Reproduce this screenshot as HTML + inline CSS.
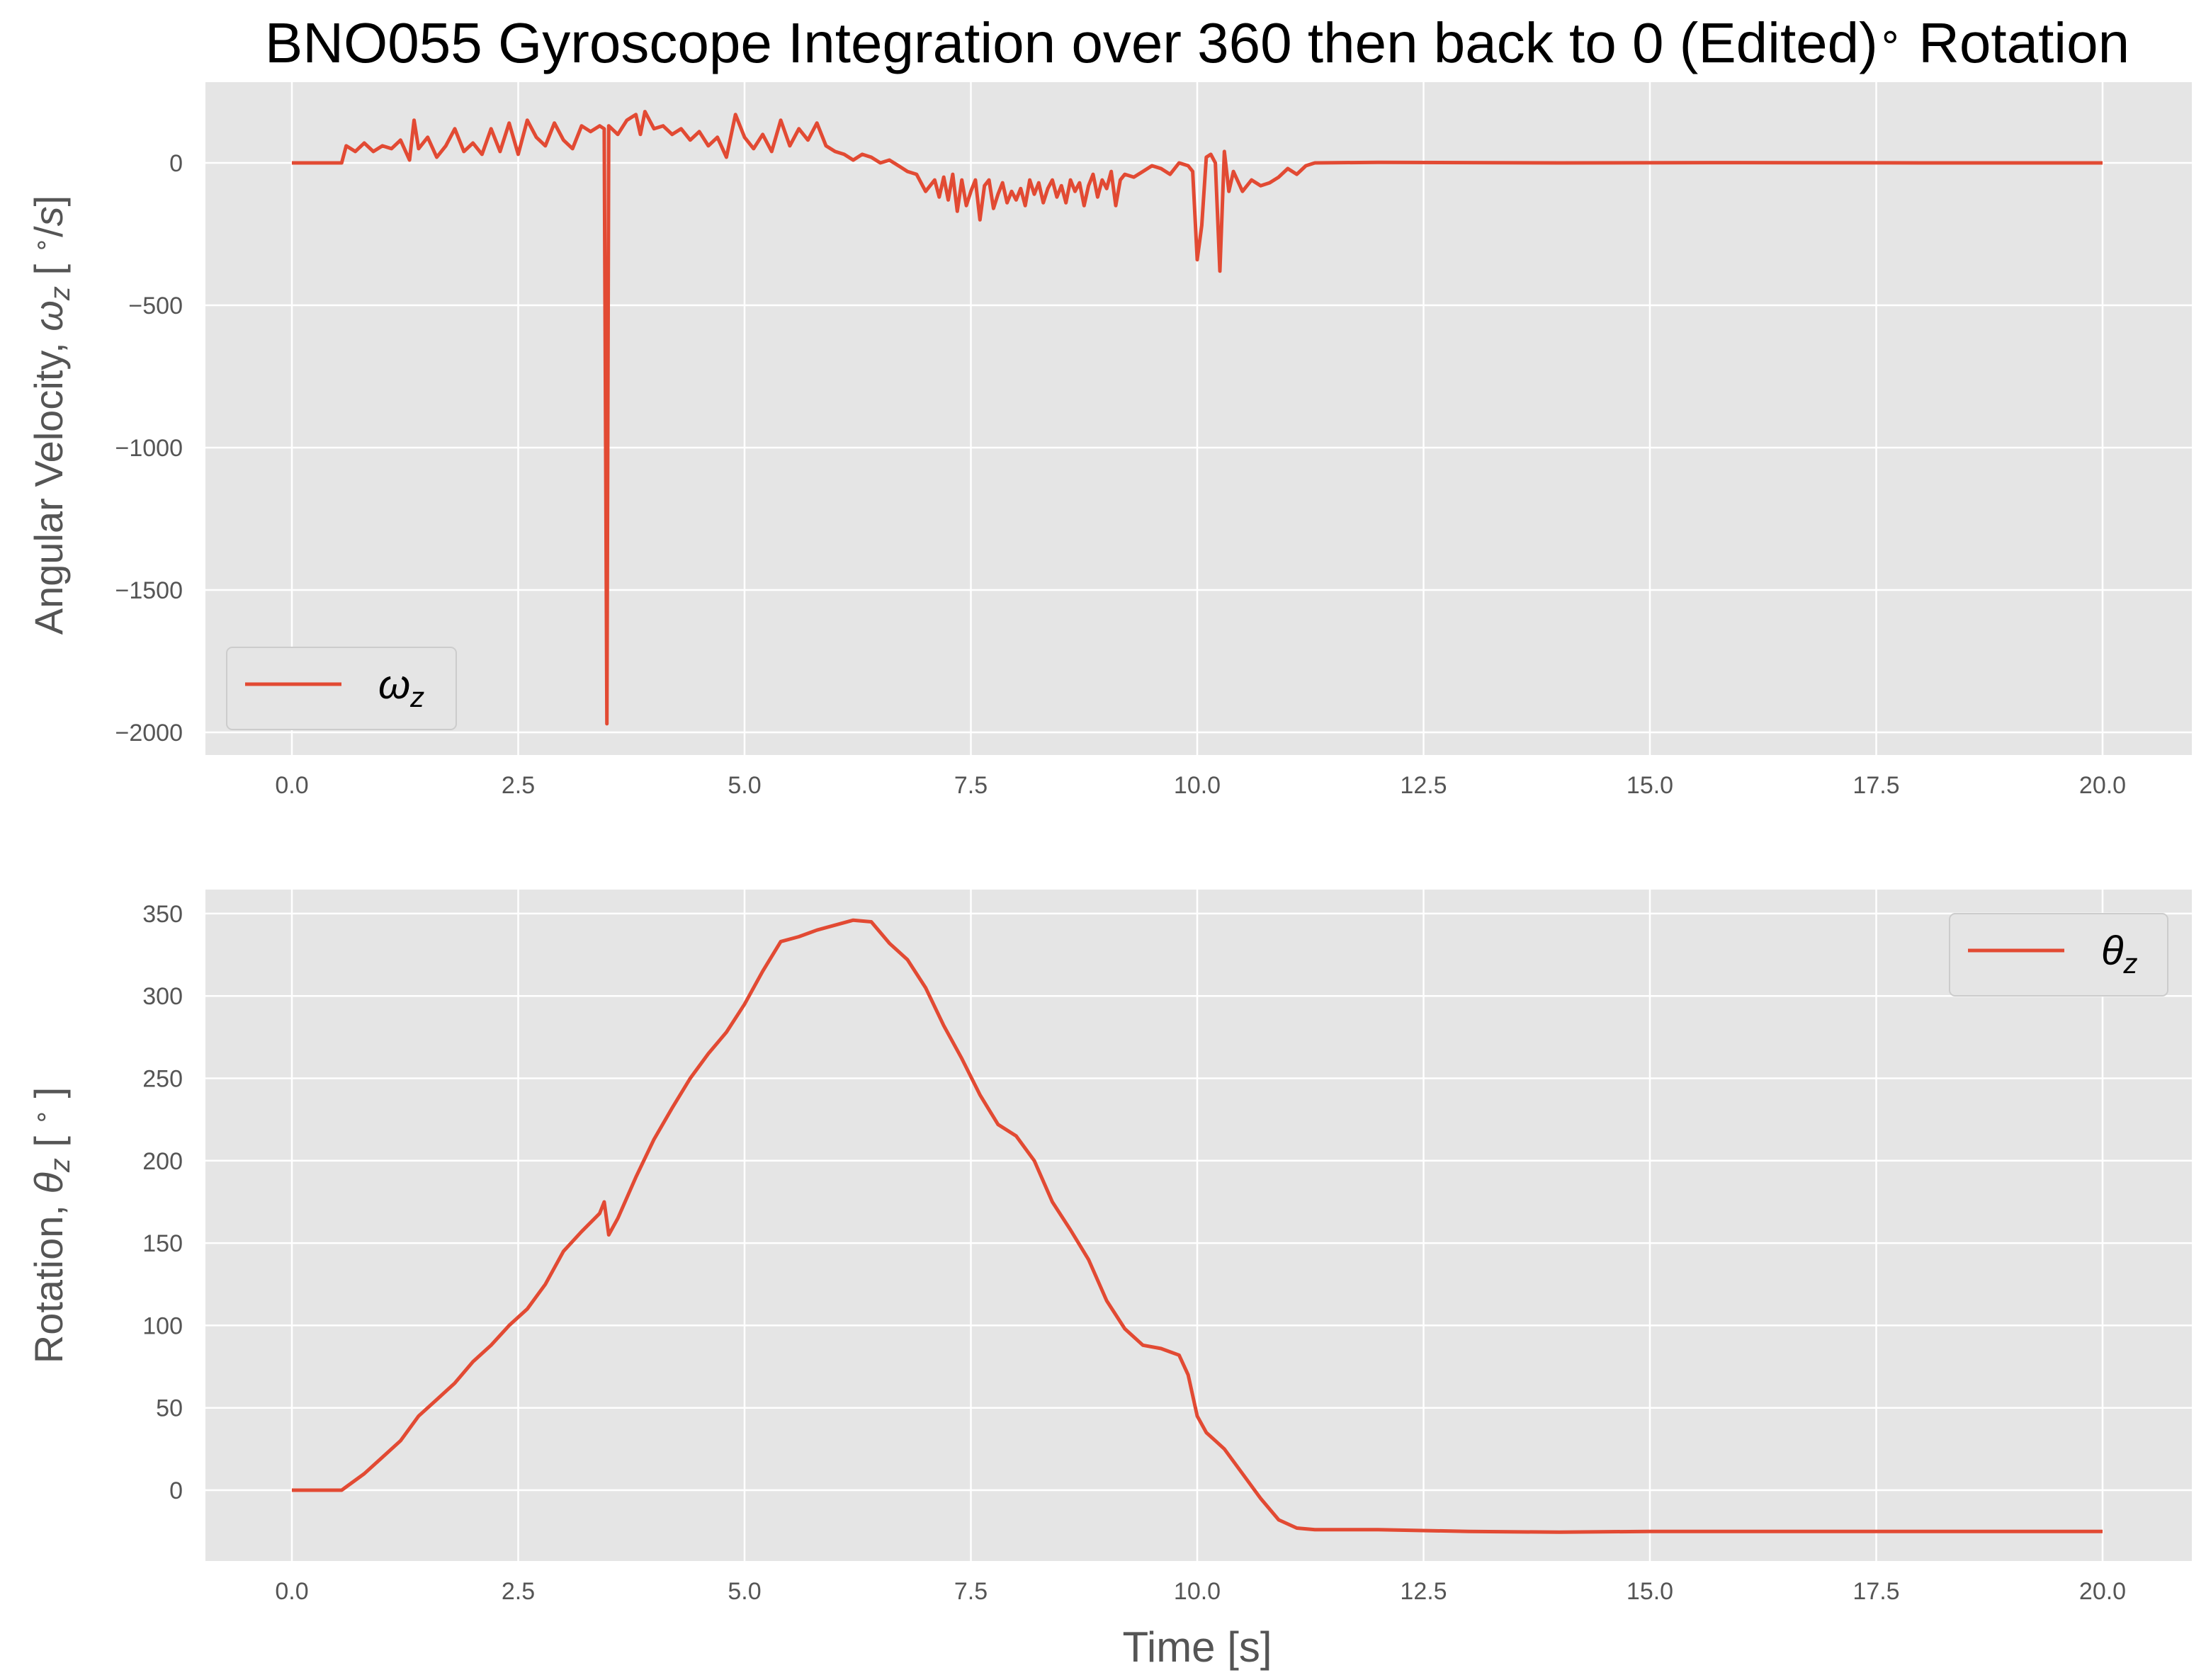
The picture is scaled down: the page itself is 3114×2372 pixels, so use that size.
<!DOCTYPE html>
<html><head><meta charset="utf-8"><style>
html,body{margin:0;padding:0;background:#fff;}
svg{display:block;font-family:"Liberation Sans","DejaVu Sans",sans-serif;}
</style></head><body>
<svg id="chart" width="3114" height="2372" viewBox="0 0 3114 2372" xmlns="http://www.w3.org/2000/svg">
<text x="1690" y="88" font-size="80" text-anchor="middle" fill="#000">BNO055 Gyroscope Integration over 360 then back to 0 (Edited)<tspan font-size="56" dy="-18">∘</tspan><tspan dy="18"> Rotation</tspan></text>
<g id="top"></g>
<g id="bot"></g>
</svg>
<script>
const omegaT=[0,0.55,
0.6,0.7,0.8,0.9,1.0,1.1,1.2,1.3,1.35,1.4,
1.5,1.6,1.7,1.8,1.9,2.0,2.1,2.2,2.3,2.4,
2.5,2.6,2.7,2.8,2.9,3.0,3.1,3.2,3.3,3.4,
3.45,3.48,3.5,3.6,3.7,3.8,3.85,3.9,4.0,4.1,
4.2,4.3,4.4,4.5,4.6,4.7,4.8,4.9,5.0,5.1,
5.2,5.3,5.4,5.5,5.6,5.7,5.8,5.9,6.0,6.1,
6.2,6.3,6.4,6.5,6.6,6.7,6.8,6.9,7.0,7.1,
7.15,7.2,7.25,7.3,7.35,7.4,7.45,7.5,7.55,7.6,
7.65,7.7,7.75,7.8,7.85,7.9,7.95,8.0,8.05,8.1,
8.15,8.2,8.25,8.3,8.35,8.4,8.45,8.5,8.55,8.6,
8.65,8.7,8.75,8.8,8.85,8.9,8.95,9.0,9.05,9.1,
9.15,9.2,9.3,9.4,9.5,9.6,9.7,9.8,9.9,9.95,
10.0,10.05,10.1,10.15,10.2,10.25,10.3,10.35,10.4,10.5,
10.6,10.7,10.8,10.9,11.0,11.1,11.2,11.3,
12,14,16,18,20];
const omegaV=[0,0,
60,40,70,40,60,50,80,10,150,50,
90,20,60,120,40,70,30,120,40,140,
30,150,90,60,140,80,50,130,110,130,
120,-1970,130,100,150,170,100,180,120,130,
100,120,80,110,60,90,20,170,90,50,
100,40,150,60,120,80,140,60,40,30,
10,30,20,0,10,-10,-30,-40,-100,-60,
-120,-50,-130,-40,-170,-60,-150,-100,-60,-200,
-80,-60,-160,-110,-70,-140,-100,-130,-90,-150,
-60,-110,-70,-140,-90,-60,-120,-80,-140,-60,
-100,-70,-150,-80,-40,-120,-60,-90,-30,-150,
-60,-40,-50,-30,-10,-20,-40,0,-10,-30,
-340,-220,20,30,0,-380,40,-100,-30,-100,
-60,-80,-70,-50,-20,-40,-10,0,
2,0,1,0,0];
const thetaT=[0,0.55,0.6,0.8,1.0,1.2,1.4,1.6,1.8,2.0,2.2,2.4,2.6,2.8,3.0,3.2,3.4,3.45,3.5,3.6,3.8,4.0,4.2,4.4,4.6,4.8,5.0,5.2,5.4,5.6,5.8,6.0,6.2,6.4,6.6,6.8,7.0,7.2,7.4,7.6,7.8,8.0,8.2,8.4,8.6,8.8,9.0,9.2,9.4,9.6,9.8,9.9,10.0,10.1,10.2,10.3,10.5,10.7,10.9,11.1,11.3,12,13,14,15,20];
const thetaV=[0,0,2,10,20,30,45,55,65,78,88,100,110,125,145,157,168,175,155,165,190,213,232,250,265,278,295,315,333,336,340,343,346,345,332,322,305,282,262,240,222,215,200,175,158,140,115,98,88,86,82,70,45,35,30,25,10,-5,-18,-23,-24,-24,-25,-25.5,-25,-25];
const xTicks=[0,2.5,5,7.5,10,12.5,15,17.5,20];
const xTickLabels=["0.0","2.5","5.0","7.5","10.0","12.5","15.0","17.5","20.0"];
const omegaTicks=[0,-500,-1000,-1500,-2000];
const omegaTickLabels=["0","\u2212500","\u22121000","\u22121500","\u22122000"];
const thetaTicks=[0,50,100,150,200,250,300,350];
const thetaTickLabels=["0","50","100","150","200","250","300","350"];

const NS="http://www.w3.org/2000/svg";
function mk(p,tag,at,txt){const e=document.createElementNS(NS,tag);for(const k in at)e.setAttribute(k,at[k]);if(txt!==undefined)e.textContent=txt;p.appendChild(e);return e;}
const xs=t=>412+t*127.8;
function panel(g,top,bottom,ys,yT,yL,T,V,ylab,ylabY,legend,name){
  const bg=mk(g,'rect',{x:290,y:top,width:2804,height:bottom-top,fill:'#e5e5e5'});
  
  
  xTicks.forEach((t,i)=>{
    const l=mk(g,'line',{x1:xs(t),x2:xs(t),y1:top,y2:bottom,stroke:'#fff','stroke-width':2.5});
    
    
    const tx=mk(g,'text',{x:xs(t),y:bottom+54,'font-size':34,fill:'#555','text-anchor':'middle'},xTickLabels[i]);
    
    
  });
  yT.forEach((v,i)=>{
    const l=mk(g,'line',{x1:290,x2:3094,y1:ys(v),y2:ys(v),stroke:'#fff','stroke-width':2.5});
    
    
    const tx=mk(g,'text',{x:258,y:ys(v)+12,'font-size':34,fill:'#555','text-anchor':'end'},yL[i]);
    
    
  });
  const n=Math.min(T.length,V.length);
  const pts=T.slice(0,n).map((t,i)=>xs(t).toFixed(1)+','+ys(V[i]).toFixed(1)).join(' ');
  const pl=mk(g,'polyline',{points:pts,fill:'none',stroke:'#E24A33','stroke-width':5,'stroke-linejoin':'round'});
  
  
  const yl=mk(g,'text',{x:0,y:0,'font-size':56,fill:'#555','text-anchor':'middle',transform:`translate(88,${ylabY}) rotate(-90)`});
  yl.innerHTML=ylab;
  
  
  const lg=mk(g,'g',{});
  
  
  mk(lg,'rect',{x:legend[0],y:legend[1],width:legend[2],height:116,rx:8,fill:'#e5e5e5',stroke:'#cccccc','stroke-width':2});
  mk(lg,'line',{x1:legend[0]+26,x2:legend[0]+162,y1:legend[1]+52,y2:legend[1]+52,stroke:'#E24A33','stroke-width':5});
  const lt=mk(lg,'text',{x:legend[0]+214,y:legend[1]+72,'font-size':58,fill:'#000','font-style':'italic'});
  lt.innerHTML=legend[3];
  
  
}
panel(document.getElementById('top'),116,1066,v=>230-v*0.402,omegaTicks,omegaTickLabels,omegaT,omegaV,
 'Angular Velocity, <tspan font-style="italic">ω<tspan font-size="40" dy="10">z</tspan></tspan><tspan dy="-10"> [ </tspan><tspan font-size="36" dy="-18">∘</tspan><tspan dy="18">/</tspan><tspan font-style="italic">s</tspan>]',586,
 [320,914,324,'ω<tspan font-size="40" dy="12">z</tspan>'],'omega');
panel(document.getElementById('bot'),1256,2204,v=>2104-v*2.326,thetaTicks,thetaTickLabels,thetaT,thetaV,
 'Rotation, <tspan font-style="italic">θ<tspan font-size="40" dy="10">z</tspan></tspan><tspan dy="-10"> [ </tspan><tspan font-size="36" dy="-18">∘</tspan><tspan dy="18"> ]</tspan>',1730,
 [2752,1290,308,'θ<tspan font-size="40" dy="12">z</tspan>'],'theta');
const xl=mk(document.getElementById('chart'),'text',{x:1690,y:2346,'font-size':60,fill:'#555','text-anchor':'middle'},'Time [s]');


</script>
</body></html>
